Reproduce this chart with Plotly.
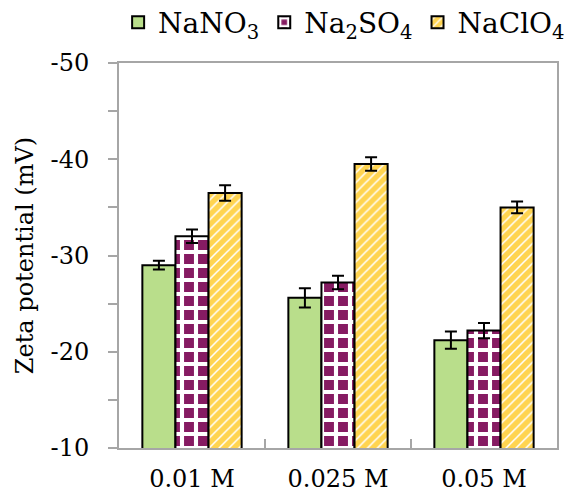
import plotly.graph_objects as go

categories = ["0.01 M", "0.025 M", "0.05 M"]
series_names = ["NaNO<sub>3</sub>", "Na<sub>2</sub>SO<sub>4</sub>", "NaClO<sub>4</sub>"]
nano3 = [-29.0, -25.6, -21.2]
nano3_err = [0.45, 1.0, 0.9]
na2so4 = [-32.0, -27.2, -22.2]
na2so4_err = [0.7, 0.7, 0.8]
naclo4 = [-36.5, -39.5, -35.0]
naclo4_err = [0.8, 0.7, 0.6]
y_tickvals = [-50, -40, -30, -20, -10]
y_ticktext = ["-50", "-40", "-30", "-20", "-10"]

FONT = "DejaVu Serif"

fig = go.Figure()

def add(name, vals, errs, color, pattern):
    fig.add_trace(go.Bar(
        x=categories, y=vals, name=name,
        marker=dict(color=color, line=dict(color="black", width=2), pattern=pattern),
        error_y=dict(type="data", array=errs, color="black", thickness=2, width=6),
    ))

add(series_names[0], nano3, nano3_err, "#B9DE8B", dict(shape=""))
add(series_names[1], na2so4, na2so4_err, "#861B62",
    dict(shape="+", fgcolor="white", bgcolor="#861B62", size=14, solidity=0.5, fillmode="replace"))
add(series_names[2], naclo4, naclo4_err, "#FFD450",
    dict(shape="/", fgcolor="white", bgcolor="#FFD450", size=7, solidity=0.22, fillmode="replace"))

fig.update_layout(
    width=585, height=497,
    margin=dict(l=119, r=28, t=63, b=49, autoexpand=False),
    paper_bgcolor="white", plot_bgcolor="white",
    barmode="group", bargap=0.32, bargroupgap=0,
    font=dict(family=FONT, size=24, color="black"),
    showlegend=True,
    legend=dict(orientation="h", x=-0.002, xanchor="left", y=1.105, yanchor="middle",
                font=dict(size=28), itemwidth=30, tracegroupgap=0,
                bgcolor="rgba(0,0,0,0)"),
    xaxis=dict(showline=True, linecolor="#A6A6A6", linewidth=2, mirror=True,
               ticks="inside", ticklen=9, tickcolor="#A6A6A6", tickwidth=2,
               tickson="boundaries", tickfont=dict(size=24), showgrid=False,
               ticklabelstandoff=8),
    yaxis=dict(range=[-10, -50], tickvals=y_tickvals, ticktext=y_ticktext,
               showline=True, linecolor="#A6A6A6",
               linewidth=2, mirror=True, ticks="outside", ticklen=9, tickcolor="#A6A6A6",
               tickwidth=2, showgrid=False, zeroline=False, tickfont=dict(size=24),
               ticklabelstandoff=14,
               minor=dict(dtick=5, tick0=-10, ticks="outside", ticklen=9, tickcolor="#A6A6A6", tickwidth=2),
               title=dict(text="Zeta potential (mV)", font=dict(size=24), standoff=10)),
)

fig.write_html("out.html")
